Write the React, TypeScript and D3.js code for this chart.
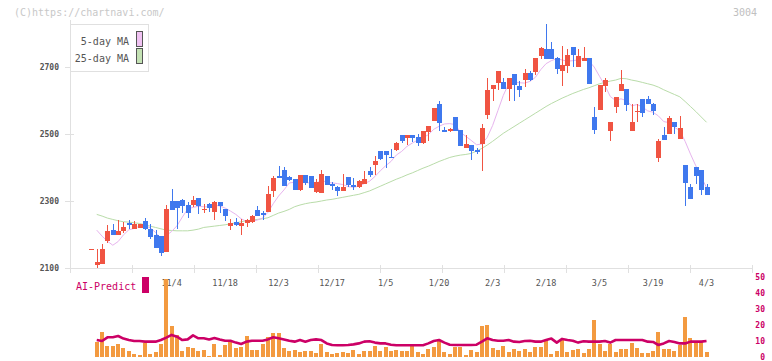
import React from "react";
import * as d3 from "d3";

// daily candles, index 0 = first visible day
const opens = [
  2156, 2109, 2112, 2181, 2213, 2198, 2210, 2235, 2216, 2219,
  2240, 2216, 2198, 2196, 2149, 2300, 2300, 2303, 2288, 2288,
  2309, 2276, 2291, 2268, 2297, 2276, 2225, 2238, 2225, 2233,
  2237, 2273, 2264, 2268, 2331, 2375, 2392, 2371, 2366, 2333,
  2378, 2375, 2328, 2325, 2375, 2351, 2342, 2330, 2372, 2348,
  2342, 2352, 2390, 2407, 2449, 2449, 2431, 2452, 2497, 2488,
  2497, 2491, 2473, 2506, 2539, 2590, 2512, 2509, 2551, 2512,
  2459, 2467, 2453, 2470, 2557, 2634, 2652, 2655, 2634, 2679,
  2643, 2661, 2682, 2685, 2733, 2754, 2754, 2727, 2688, 2703,
  2760, 2700, 2718, 2727, 2551, 2571, 2643, 2509, 2581, 2628,
  2634, 2509, 2567, 2604, 2604, 2590, 2428, 2497, 2500, 2536,
  2485, 2407, 2342, 2401, 2393, 2342,
];
const highs = [
  2156, 2157, 2172, 2228, 2231, 2243, 2238, 2243, 2240, 2232,
  2249, 2231, 2213, 2197, 2288, 2336, 2300, 2305, 2297, 2315,
  2310, 2291, 2293, 2300, 2297, 2277, 2246, 2249, 2246, 2246,
  2257, 2285, 2271, 2345, 2375, 2404, 2401, 2375, 2366, 2378,
  2378, 2375, 2366, 2393, 2375, 2358, 2345, 2381, 2372, 2369,
  2362, 2390, 2402, 2434, 2449, 2449, 2455, 2476, 2497, 2497,
  2497, 2500, 2509, 2524, 2578, 2600, 2521, 2518, 2551, 2512,
  2497, 2467, 2458, 2530, 2668, 2646, 2688, 2667, 2667, 2679,
  2658, 2694, 2688, 2727, 2760, 2828, 2775, 2730, 2763, 2754,
  2760, 2754, 2760, 2727, 2581, 2646, 2667, 2536, 2610, 2691,
  2634, 2590, 2590, 2604, 2613, 2593, 2485, 2521, 2554, 2536,
  2554, 2407, 2351, 2401, 2393, 2351,
];
const lows = [
  2156, 2099, 2112, 2175, 2198, 2198, 2204, 2217, 2216, 2218,
  2213, 2187, 2159, 2137, 2149, 2273, 2216, 2263, 2249, 2283,
  2261, 2264, 2267, 2243, 2264, 2240, 2213, 2225, 2198, 2223,
  2235, 2255, 2243, 2268, 2313, 2369, 2345, 2360, 2333, 2330,
  2348, 2340, 2325, 2325, 2348, 2333, 2315, 2330, 2343, 2333,
  2340, 2352, 2372, 2378, 2422, 2399, 2428, 2449, 2473, 2467,
  2476, 2464, 2470, 2479, 2539, 2509, 2506, 2506, 2509, 2464,
  2459, 2422, 2441, 2390, 2545, 2599, 2631, 2634, 2599, 2599,
  2610, 2640, 2658, 2676, 2724, 2724, 2724, 2679, 2643, 2682,
  2700, 2700, 2718, 2649, 2500, 2571, 2625, 2479, 2563, 2628,
  2569, 2509, 2536, 2551, 2590, 2557, 2416, 2482, 2500, 2500,
  2485, 2285, 2306, 2351, 2318, 2318,
];
const closes = [
  2156, 2119, 2157, 2210, 2198, 2210, 2222, 2229, 2231, 2231,
  2216, 2192, 2159, 2144, 2276, 2273, 2279, 2286, 2264, 2303,
  2286, 2277, 2279, 2297, 2285, 2255, 2234, 2228, 2234, 2243,
  2255, 2255, 2258, 2321, 2370, 2369, 2345, 2363, 2333, 2378,
  2355, 2340, 2357, 2381, 2348, 2345, 2330, 2342, 2348, 2342,
  2360, 2366, 2378, 2420, 2425, 2437, 2428, 2473, 2479, 2497,
  2488, 2473, 2509, 2524, 2578, 2533, 2506, 2515, 2509, 2464,
  2470, 2449, 2447, 2518, 2631, 2646, 2688, 2634, 2667, 2646,
  2631, 2682, 2661, 2727, 2757, 2724, 2724, 2694, 2706, 2736,
  2736, 2733, 2727, 2649, 2512, 2646, 2661, 2536, 2610, 2649,
  2587, 2536, 2569, 2563, 2590, 2569, 2479, 2482, 2548, 2521,
  2518, 2354, 2306, 2375, 2333, 2318,
];

// moving averages as drawn (first day has none)
const ma5 = [
  null, 2213, 2195, 2180, 2168, 2179, 2199, 2214, 2218, 2225,
  2226, 2220, 2206, 2188, 2197, 2209, 2226, 2252, 2276, 2281,
  2284, 2283, 2282, 2288, 2285, 2279, 2270, 2260, 2247, 2239,
  2239, 2243, 2249, 2266, 2292, 2315, 2333, 2354, 2356, 2358,
  2355, 2354, 2353, 2362, 2356, 2354, 2352, 2349, 2343, 2341,
  2344, 2352, 2359, 2373, 2390, 2405, 2418, 2437, 2448, 2463,
  2473, 2482, 2489, 2498, 2514, 2523, 2530, 2531, 2528, 2505,
  2493, 2481, 2468, 2470, 2490, 2525, 2570, 2615, 2650, 2656,
  2653, 2652, 2657, 2669, 2692, 2710, 2719, 2725, 2721, 2717,
  2719, 2721, 2726, 2718, 2700, 2672, 2645, 2612, 2600, 2605,
  2600, 2584, 2588, 2581, 2569, 2565, 2554, 2537, 2534, 2520,
  2510, 2478, 2440, 2405, 2372, 2340,
];
const ma25 = [
  null, 2260, 2255, 2249, 2245, 2241, 2238, 2237, 2235, 2233,
  2229, 2225, 2221, 2217, 2213, 2212, 2211, 2211, 2211, 2213,
  2216, 2221, 2223, 2225, 2227, 2229, 2232, 2235, 2238, 2241,
  2243, 2245, 2247, 2250, 2257, 2264, 2269, 2275, 2283, 2288,
  2292, 2295, 2297, 2300, 2303, 2305, 2308, 2311, 2314, 2317,
  2320, 2325, 2330, 2337, 2344, 2351, 2358, 2365, 2371, 2378,
  2384, 2391, 2398, 2404, 2411, 2418, 2424, 2430, 2434, 2437,
  2439, 2442, 2449, 2457, 2467, 2478, 2490, 2502, 2512, 2522,
  2532, 2542, 2552, 2562, 2572, 2582, 2591, 2599, 2607, 2614,
  2621, 2627, 2633, 2638, 2644, 2650, 2654, 2658, 2661, 2666,
  2665, 2661, 2658, 2654, 2650, 2646, 2640, 2632, 2625, 2618,
  2611, 2597, 2582, 2567, 2551, 2535,
];

// lower panel
const volume = [
  null, 9.6, 15.8, 6.9, 6.9, 8.1, 5.6, 4.0, 1.9, 1.3, 9.0,
  1.9, 3.1, 8.1, 48.8, 19.4, 13.8, 4.0, 6.5, 5.6, 3.8,
  4.6, 0.6, 8.1, 1.5, 7.5, 10.6, 5.6, 6.5, 13.1, 4.6,
  4.6, 8.1, 12.5, 15.0, 15.0, 5.6, 4.0, 4.4, 3.1, 3.8,
  3.8, 2.3, 8.3, 3.1, 1.9, 2.5, 3.1, 2.5, 4.6, 1.9,
  3.8, 3.8, 6.9, 3.8, 6.3, 4.0, 4.6, 3.8, 3.8, 8.1,
  3.3, 1.9, 5.0, 6.3, 10.6, 3.1, 1.9, 6.3, 6.3, 1.3,
  4.4, 3.1, 19.4, 20.0, 5.6, 4.4, 6.9, 3.1, 5.0, 4.0,
  5.0, 3.1, 6.3, 6.3, 10.6, 1.9, 4.0, 10.6, 3.1, 4.4,
  5.0, 2.5, 5.0, 23.1, 8.1, 3.8, 8.1, 3.1, 5.0, 5.0,
  9.0, 5.6, 2.5, 2.5, 3.8, 15.8, 5.0, 5.0, 3.8, 7.5,
  25.2, 12.1, 10.0, 10.0, 3.1,
];
const aiPredict = [
  null, 10.6, 10.0, 12.3, 12.3, 13.1, 11.5, 10.6, 10.0, 10.0, 9.6,
  9.6, 9.6, 10.6, 12.1, 13.8, 12.7, 10.6, 11.0, 13.5, 11.7,
  11.7, 11.0, 11.9, 11.0, 10.2, 10.2, 9.0, 8.1, 9.6, 10.2,
  10.2, 10.2, 11.0, 12.3, 11.7, 11.0, 10.2, 9.6, 10.6, 9.6,
  10.6, 11.0, 10.6, 8.5, 7.5, 7.3, 7.3, 7.5, 7.9, 8.5,
  9.6, 9.8, 9.0, 8.5, 8.5, 7.7, 7.3, 7.3, 7.3, 7.3,
  7.3, 7.3, 8.5, 10.0, 10.6, 9.0, 7.7, 7.5, 7.5, 7.5,
  7.5, 7.7, 9.6, 11.7, 10.6, 10.2, 10.2, 10.6, 9.6, 9.4,
  10.0, 10.2, 9.6, 9.6, 10.6, 11.5, 9.0, 11.3, 10.6, 10.2,
  9.0, 9.8, 9.6, 9.6, 9.6, 10.0, 9.0, 10.6, 10.6, 10.6,
  10.6, 10.6, 10.6, 9.6, 9.4, 7.5, 8.5, 10.0, 9.4, 8.5,
  8.5, 9.6, 9.6, 9.6, 10.0,
];

const tickIdx = [15, 25, 35, 45, 55, 65, 75, 85, 95, 105, 115];
const tickLabels = ["11/4", "11/18", "12/3", "12/17", "1/5", "1/20", "2/3", "2/18", "3/5", "3/19", "4/3"];
const priceTicks = [2100, 2300, 2500, 2700];
const volTicks = [0, 10, 20, 30, 40, 50];

const UP = "#f05442";
const DOWN = "#3f78ee";
const MONO = "'DejaVu Sans Mono', monospace";

export default function App() {
  const width = 772, height = 361;
  const left = 70, right = 752, axisY = 268;

  const x = d3.scaleLinear().domain([-4, 123.5]).range([left, right]);
  const y = d3.scaleLinear().domain([2100, 2700]).range([268, 67]);
  const v = d3.scaleLinear().domain([0, 50]).range([357, 277]);

  const maLine = d3
    .line<number | null>()
    .defined((d) => d != null)
    .x((_, i) => x(i))
    .y((d) => y(d as number));
  const aiLine = d3
    .line<number | null>()
    .defined((d) => d != null)
    .x((_, i) => x(i))
    .y((d) => v(d as number));

  // grid ticks split the plot width evenly
  const xTicks = d3.range(12).map((k) => left + (k * (right - left)) / 11);

  return (
    <svg width={width} height={height} style={{ position: "absolute", left: 0, top: 0, background: "#fff" }}>
      <text x={14} y={16} fontFamily={MONO} fontSize={10} fill="#c8c8c8">(C)https://chartnavi.com/</text>
      <text x={757} y={16} fontFamily={MONO} fontSize={10} fill="#c0c0c0" textAnchor="end">3004</text>

      {/* axes */}
      <line x1={left + 0.5} x2={left + 0.5} y1={20} y2={273} stroke="#e0e0e0" />
      <line x1={65} x2={right} y1={axisY + 0.5} y2={axisY + 0.5} stroke="#e0e0e0" />
      {xTicks.map((t, k) => (
        <line key={k} x1={Math.round(t) + 0.5} x2={Math.round(t) + 0.5} y1={265} y2={273} stroke="#e0e0e0" />
      ))}
      {priceTicks.map((p) => (
        <g key={p}>
          <line x1={65} x2={74} y1={Math.round(y(p)) + 0.5} y2={Math.round(y(p)) + 0.5} stroke="#e0e0e0" />
          <text x={59} y={y(p) + 3} fontFamily={MONO} fontSize={8} fontWeight="bold" fill="#555" textAnchor="end">{p}</text>
        </g>
      ))}
      {tickIdx.map((ti, k) => (
        <text key={ti} x={x(ti)} y={286} fontFamily={MONO} fontSize={8.5} fill="#555" textAnchor="middle">{tickLabels[k]}</text>
      ))}

      {/* moving averages */}
      <path d={maLine(ma25) || ""} fill="none" stroke="#b9dca9" strokeWidth={1} />
      <path d={maLine(ma5) || ""} fill="none" stroke="#e7b4ee" strokeWidth={1} />

      {/* candles */}
      <g shapeRendering="crispEdges">
        {closes.map((c, i) => {
          const o = opens[i];
          const col = c >= o ? UP : DOWN;
          const cx = x(i);
          const top = y(Math.max(o, c));
          const h = Math.max(1, Math.abs(y(o) - y(c)));
          return (
            <g key={i}>
              <rect x={Math.round(cx)} y={y(highs[i])} width={1} height={Math.max(1, y(lows[i]) - y(highs[i]))} fill={col} />
              <rect x={Math.round(cx) - 2} y={top} width={5} height={h} fill={col} />
            </g>
          );
        })}
      </g>

      {/* legend */}
      <rect x={70.5} y={24.5} width={78} height={47} fill="#fff" stroke="#e0e0e0" />
      <text x={129} y={45} fontFamily={MONO} fontSize={10} fill="#555" textAnchor="end">5-day MA</text>
      <text x={129} y={61.5} fontFamily={MONO} fontSize={10} fill="#555" textAnchor="end">25-day MA</text>
      <rect x={136.5} y={31.5} width={6} height={15} fill="#f0c2f2" stroke="#555" />
      <rect x={136.5} y={48.5} width={6} height={15} fill="#c4e2b4" stroke="#555" />

      {/* lower panel */}
      <text x={76} y={290} fontFamily={MONO} fontSize={10} fill="#cc0066">AI-Predict</text>
      <rect x={142} y={277} width={7} height={16} fill="#cc0066" />
      <g shapeRendering="crispEdges">
        {volume.map((d, i) =>
          d == null ? null : (
            <rect key={i} x={Math.round(x(i)) - 2} y={v(d)} width={4} height={v(0) - v(d)} fill="#f39a40" />
          )
        )}
      </g>
      <path d={aiLine(aiPredict) || ""} fill="none" stroke="#cc0066" strokeWidth={2.6} strokeLinejoin="round" />
      {volTicks.map((t) => (
        <text key={t} x={765} y={v(t) + 3} fontFamily={MONO} fontSize={8} fontWeight="bold" fill="#cc0066" textAnchor="end">{t}</text>
      ))}
    </svg>
  );
}
